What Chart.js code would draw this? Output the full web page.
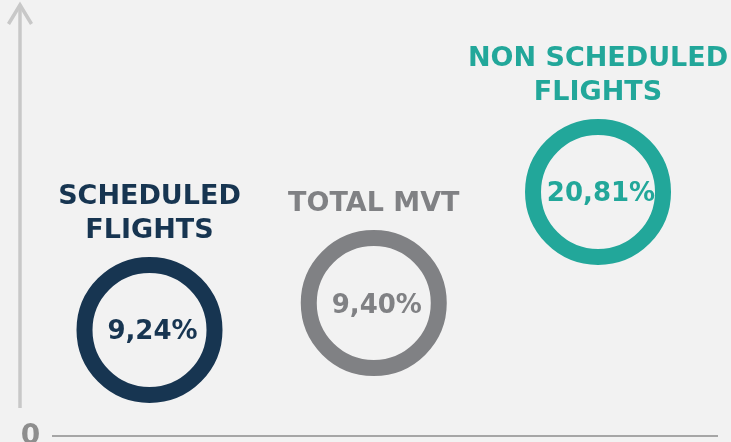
<!DOCTYPE html>
<html>
<head>
<meta charset="utf-8">
<script src="https://cdn.jsdelivr.net/npm/chart.js@4"></script>
<style>
  html, body { margin: 0; padding: 0; background: #f2f2f2; }
  #wrap { width: 731px; height: 442px; }
</style>
</head>
<body>
<div id="wrap"><canvas id="chart" width="731" height="442"></canvas></div>
<script>
// categories (one ring each)
const titles = [['SCHEDULED', 'FLIGHTS'], ['TOTAL MVT'], ['NON SCHEDULED', 'FLIGHTS']];
// growth shown inside each ring
const growth = [9.24, 9.40, 20.81];
// height of each ring on the vertical axis
const heights = [9.04, 11.34, 20.81];
const colors = ['#173551', '#808184', '#22a79a'];

const FONT = '"DejaVu Sans", sans-serif';

// axes + texts drawn around the points
const infoPlugin = {
  id: 'info',
  beforeDatasetsDraw(chart) {
    const ctx = chart.ctx;
    const area = chart.chartArea;
    const y0 = chart.scales.y.getPixelForValue(0);
    ctx.save();
    // vertical axis with arrow
    ctx.strokeStyle = '#c8c8c8';
    ctx.lineWidth = 3.5;
    ctx.beginPath();
    ctx.moveTo(area.left, area.top + 2);
    ctx.lineTo(area.left, y0 - 28);
    ctx.stroke();
    ctx.beginPath();
    ctx.moveTo(area.left - 11.5, area.top + 20);
    ctx.lineTo(area.left, area.top + 1);
    ctx.lineTo(area.left + 11.5, area.top + 20);
    ctx.stroke();
    // horizontal axis
    ctx.strokeStyle = '#a6a6a6';
    ctx.lineWidth = 2;
    ctx.beginPath();
    ctx.moveTo(area.left + 32, y0);
    ctx.lineTo(area.right - 13, y0);
    ctx.stroke();
    // zero label
    ctx.fillStyle = '#8e8e8e';
    ctx.font = 'bold 28px ' + FONT;
    ctx.textAlign = 'center';
    ctx.textBaseline = 'alphabetic';
    ctx.fillText('0', area.left + 10.5, y0 + 8);
    ctx.restore();
  },
  afterDatasetsDraw(chart) {
    const ctx = chart.ctx;
    const meta = chart.getDatasetMeta(0);
    ctx.save();
    ctx.textAlign = 'center';
    ctx.textBaseline = 'alphabetic';
    meta.data.forEach((el, i) => {
      ctx.fillStyle = colors[i];
      // title lines above the ring
      ctx.font = 'bold 27px ' + FONT;
      const ringTop = el.y - 73;
      const lines = titles[i];
      for (let k = 0; k < lines.length; k++) {
        const base = ringTop - 19 - (lines.length - 1 - k) * 33.5;
        ctx.fillText(lines[k], el.x, base);
      }
      // value inside the ring
      ctx.font = 'bold 26px ' + FONT;
      ctx.fillText(growth[i].toFixed(2).replace('.', ',') + '%', el.x + 3, el.y + 9.5);
    });
    ctx.restore();
  }
};

new Chart(document.getElementById('chart'), {
  type: 'scatter',
  data: {
    datasets: [{
      data: heights.map((h, i) => ({ x: i, y: h })),
      pointRadius: 65,
      pointHoverRadius: 65,
      pointBorderWidth: 16,
      pointHoverBorderWidth: 16,
      pointBackgroundColor: 'rgba(0,0,0,0)',
      pointBorderColor: colors,
      clip: false
    }]
  },
  options: {
    responsive: false,
    devicePixelRatio: 1,
    animation: false,
    events: [],
    layout: {
      autoPadding: false,
      padding: { left: 20, right: 0, top: 4, bottom: 6 }
    },
    plugins: {
      legend: { display: false },
      tooltip: { enabled: false }
    },
    scales: {
      x: { type: 'linear', display: false, min: -0.5775, max: 2.593 },
      y: { type: 'linear', display: false, min: 0, max: 36.84 }
    }
  },
  plugins: [infoPlugin]
});
</script>
</body>
</html>
